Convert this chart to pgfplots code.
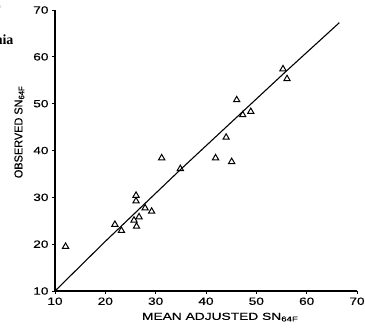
\documentclass[border=0pt]{standalone}
\usepackage{fontspec}
\setmainfont{Liberation Sans}
\newfontfamily\seriffont{Liberation Serif}
\newfontfamily\tickfont{Liberation Sans}[FakeStretch=1.3,FakeBold=0.4]
\newfontfamily\xlabfont{Liberation Sans}[FakeStretch=1.35,FakeBold=0.4]
\newfontfamily\ylabfont{Liberation Sans}[FakeStretch=0.95,FakeBold=0.4]
\usepackage{pgfplots}
\pgfplotsset{compat=1.18}
\begin{document}
\begin{tikzpicture}[x=1pt,y=1pt]
\path[use as bounding box] (-55,-38) rectangle (310,291);
\begin{axis}[
  at={(0,0)}, anchor=south west,
  width=302pt, height=281pt, scale only axis,
  xmin=10, xmax=70, ymin=10, ymax=70,
  xtick={10,20,...,70}, ytick={10,20,...,70},
  axis lines*=left,
  axis line style={line width=1.1pt},
  tick align=outside, tick style={black, line width=0.8pt},
  major tick length=3pt,
  ticklabel style={font=\tickfont\fontsize{10.5}{12}\selectfont},
  /pgf/number format/assume math mode=true,
  xlabel={MEAN ADJUSTED SN\textsubscript{64F}},
  ylabel={OBSERVED SN\textsubscript{64F}},
  xlabel style={font=\xlabfont\fontsize{10.2}{12}\selectfont, at={(axis description cs:0.547,-0.093)}, anchor=center},
  ylabel style={font=\ylabfont\fontsize{11.5}{13}\selectfont, at={(axis description cs:-0.118,0.566)}, anchor=center},
  clip=false,
]
\addplot[black, line width=1.1pt, no markers] coordinates {
  (10,10) (20,20.6) (35,36) (56,57) (66.5,67.3)
};
\addplot[only marks, mark=triangle, mark size=3.6pt, mark options={black, line width=1pt, fill=white}] coordinates {
  (12.1,19.5) (21.9,24.2) (23.2,22.9) (25.7,25.1) (26.7,25.8)
  (26.2,23.8) (27.9,27.7) (29.2,27.0) (26.1,30.4) (26.1,29.2)
  (34.9,36.1) (31.2,38.4) (41.9,38.4) (45.1,37.6) (44.0,42.8)
  (47.3,47.6) (48.9,48.3) (46.1,50.8) (55.3,57.4) (56.1,55.3)
};
\end{axis}
\node[anchor=base east, font=\seriffont\bfseries\fontsize{14}{16}\selectfont] at (-38,246) {hia};
\node[anchor=base east, font=\seriffont\bfseries\fontsize{14}{16}\selectfont] at (-51,278) {r};
\end{tikzpicture}
\end{document}
